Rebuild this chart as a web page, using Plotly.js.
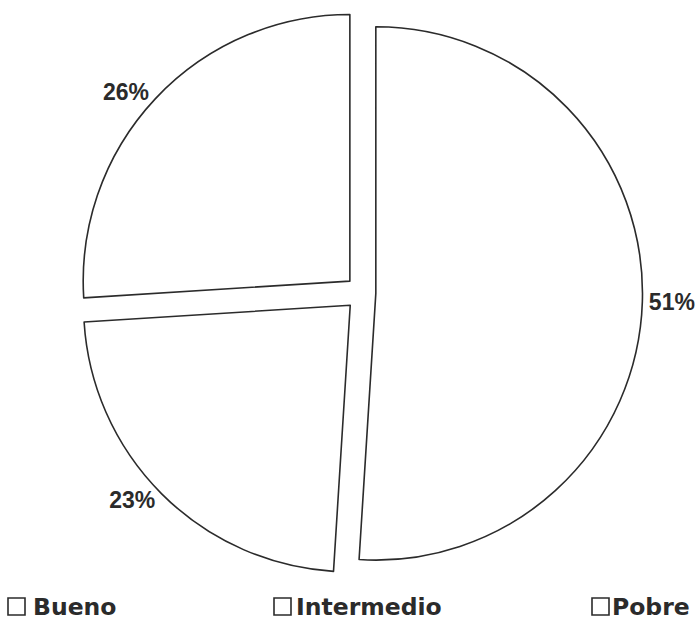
<!DOCTYPE html>
<html>
<head>
<meta charset="utf-8">
<script src="https://cdn.plot.ly/plotly-3.0.1.min.js"></script>
<style>html,body{margin:0;padding:0;background:#fff;}#chart{width:697px;height:624px;}</style>
</head>
<body>
<div id="chart"></div>
<script>
const labels = ['Bueno', 'Intermedio', 'Pobre'];
const values = [51, 23, 26];

const W = 697, H = 624;
const M = {l: 28, r: 0, t: 9, b: 47};
const PW = W - M.l - M.r, PH = H - M.t - M.b;
const px2fx = px => (px - M.l) / PW;
const py2fy = py => 1 - (py - M.t) / PH;

const ink = '#2b2b2b';

const trace = {
  type: 'pie',
  labels: labels,
  values: values,
  sort: false,
  direction: 'clockwise',
  rotation: 0,
  pull: [0.05, 0.065, 0.065],
  textinfo: 'percent',
  texttemplate: '%{percent:.0%}',
  textposition: 'outside',
  outsidetextfont: {family: 'Liberation Sans, Arial, sans-serif', size: 23, color: ink, weight: 'bold'},
  marker: {colors: ['#ffffff', '#ffffff', '#ffffff'], line: {color: ink, width: 1.6}},
  showlegend: false,
  hoverinfo: 'label+percent'
};

// legend drawn as key boxes + real text labels
const keyLeft = [8, 274, 592];
const keyText = [31, 294, 610];
const keyTop = 598, keySize = 17, keyMid = 607;

const shapes = labels.map((lab, i) => ({
  type: 'rect', xref: 'paper', yref: 'paper',
  x0: px2fx(keyLeft[i]), x1: px2fx(keyLeft[i] + keySize),
  y0: py2fy(keyTop + keySize), y1: py2fy(keyTop),
  fillcolor: '#ffffff', line: {color: ink, width: 1.6}
}));

const annotations = labels.map((lab, i) => ({
  text: lab, xref: 'paper', yref: 'paper',
  x: px2fx(keyText[i]), y: py2fy(keyMid),
  xanchor: 'left', yanchor: 'middle', showarrow: false,
  font: {family: 'DejaVu Sans, sans-serif', size: 23.5, color: ink, weight: 'bold'}
}));

const layout = {
  width: W,
  height: H,
  margin: M,
  paper_bgcolor: '#ffffff',
  showlegend: false,
  shapes: shapes,
  annotations: annotations
};

Plotly.newPlot('chart', [trace], layout, {displayModeBar: false, staticPlot: true});
</script>
</body>
</html>
